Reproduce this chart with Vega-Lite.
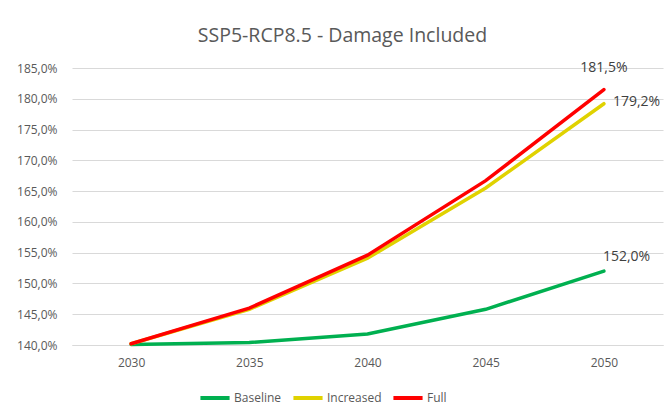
{
  "$schema": "https://vega.github.io/schema/vega-lite/v6.json",
  "autosize": "none",
  "width": 591,
  "height": 277,
  "padding": {"left": 72, "top": 68, "right": 9, "bottom": 74},
  "background": "#ffffff",
  "title": {
    "text": "SSP5-RCP8.5 - Damage Included",
    "font": "Open Sans",
    "fontSize": 19.5,
    "fontWeight": "normal",
    "color": "#595959",
    "anchor": "middle",
    "dx": -25,
    "offset": 14
  },
  "data": {
    "values": [
      {"year": "2030", "series": "Baseline", "value": 1.401},
      {"year": "2035", "series": "Baseline", "value": 1.404},
      {"year": "2040", "series": "Baseline", "value": 1.418},
      {"year": "2045", "series": "Baseline", "value": 1.458},
      {"year": "2050", "series": "Baseline", "value": 1.520},
      {"year": "2030", "series": "Increased", "value": 1.402},
      {"year": "2035", "series": "Increased", "value": 1.458},
      {"year": "2040", "series": "Increased", "value": 1.541},
      {"year": "2045", "series": "Increased", "value": 1.655},
      {"year": "2050", "series": "Increased", "value": 1.792},
      {"year": "2030", "series": "Full", "value": 1.402},
      {"year": "2035", "series": "Full", "value": 1.460},
      {"year": "2040", "series": "Full", "value": 1.546},
      {"year": "2045", "series": "Full", "value": 1.667},
      {"year": "2050", "series": "Full", "value": 1.815}
    ]
  },
  "encoding": {
    "x": {
      "field": "year",
      "type": "ordinal",
      "scale": {"type": "point", "padding": 0.5},
      "axis": {
        "title": null,
        "labelAngle": 0,
        "ticks": false,
        "domain": true,
        "domainColor": "#D9D9D9",
        "grid": false,
        "labelFont": "Open Sans",
        "labelFontSize": 12,
        "labelColor": "#595959",
        "labelPadding": 12
      }
    },
    "y": {
      "field": "value",
      "type": "quantitative",
      "scale": {"domain": [1.4, 1.85], "nice": false, "zero": false},
      "axis": {
        "title": null,
        "values": [1.4, 1.45, 1.5, 1.55, 1.6, 1.65, 1.7, 1.75, 1.8, 1.85],
        "format": ".1%",
        "ticks": false,
        "domain": false,
        "grid": true,
        "gridColor": "#D9D9D9",
        "gridWidth": 1,
        "labelFont": "Open Sans",
        "labelFontSize": 12,
        "labelColor": "#595959",
        "labelPadding": 15
      }
    }
  },
  "layer": [
    {
      "mark": {"type": "line", "strokeWidth": 3.5, "strokeCap": "round"},
      "encoding": {
        "color": {
          "field": "series",
          "type": "nominal",
          "scale": {
            "domain": ["Baseline", "Increased", "Full"],
            "range": ["#00B050", "#E0D200", "#FF0000"]
          },
          "legend": {
            "title": null,
            "orient": "none",
            "legendX": 126,
            "legendY": 313,
            "direction": "horizontal",
            "symbolType": "stroke",
            "symbolStrokeWidth": 4,
            "symbolSize": 850,
            "labelFont": "Open Sans",
            "labelFontSize": 12,
            "labelColor": "#595959",
            "labelOffset": 2,
            "columnPadding": 3
          }
        }
      }
    },
    {
      "transform": [{"filter": "datum.series == 'Full' && datum.year == '2050'"}],
      "mark": {"type": "text", "font": "Open Sans", "fontSize": 14, "color": "#404040", "align": "center", "baseline": "middle", "dy": -22},
      "encoding": {"text": {"field": "value", "type": "quantitative", "format": ".1%"}}
    },
    {
      "transform": [{"filter": "datum.series == 'Increased' && datum.year == '2050'"}],
      "mark": {"type": "text", "font": "Open Sans", "fontSize": 14, "color": "#404040", "align": "left", "baseline": "middle", "dx": 9, "dy": -2},
      "encoding": {"text": {"field": "value", "type": "quantitative", "format": ".1%"}}
    },
    {
      "transform": [{"filter": "datum.series == 'Baseline' && datum.year == '2050'"}],
      "mark": {"type": "text", "font": "Open Sans", "fontSize": 14, "color": "#404040", "align": "left", "baseline": "middle", "dx": -1, "dy": -14},
      "encoding": {"text": {"field": "value", "type": "quantitative", "format": ".1%"}}
    }
  ],
  "config": {
    "view": {"stroke": null},
    "locale": {
      "number": {"decimal": ",", "thousands": ".", "grouping": [3], "currency": ["", " €"]}
    }
  }
}
